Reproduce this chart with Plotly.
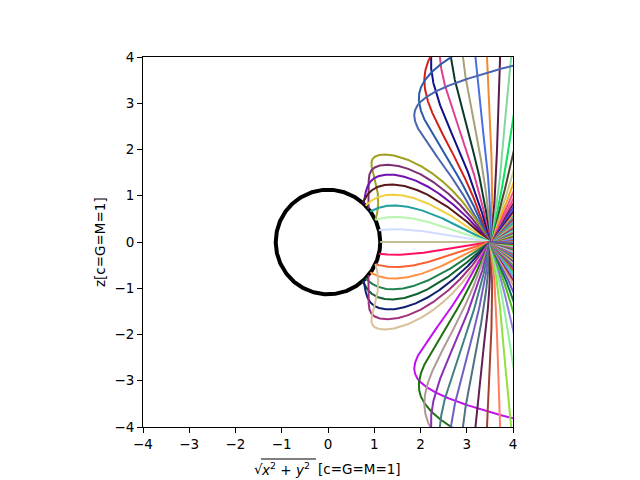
import numpy as np
import plotly.graph_objects as go

# ---------------- data / parameters ----------------
horizon_r = 1.13            # radius of the black circle
mass_captured = 0.9         # lensing mass used for rays that fall in
mass_escaping = 0.52        # lensing mass used for rays that escape
src_r = 3.5                 # emitter position on the z = 0 plane
src_speed = 0.5             # emitter speed (outward), gives forward beaming
tilt_captured_deg = 15.0    # azimuthal tilt of the rays that fall in
tilt_escaping_deg = 20.0    # azimuthal tilt of the rays that escape
n_rays = 96
emit_angles_deg = [3.75 * k for k in range(n_rays)]   # evenly spaced in the emitter frame
captured_first, captured_last = 40, 56                 # rays that end on the circle
tick_vals = [-4, -3, -2, -1, 0, 1, 2, 3, 4]

# colours, ray index 40..56 = rays that fall into the hole (top to bottom)
captured_colors = ["#a0a020", "#7a3070", "#7010b0", "#5a1818", "#f0d040", "#20a0a0",
                   "#b8f5b0", "#d0dcff", "#c0c090", "#ff1060", "#ff6030", "#ff9040",
                   "#208050", "#106030", "#102070", "#a03080", "#d8c098"]
# ray index 39 down to 0
upper_colors = ["#4a64b0", "#2a5aa8", "#d02018", "#10108a", "#e04090", "#0a3a2a",
                "#a8a078", "#4a70e0", "#f08a30", "#5a1a50", "#80d8a0", "#10e060",
                "#4a4a30", "#c8c890", "#f0b010", "#f05090",
                "#f05090", "#702050", "#4040e0", "#501070", "#e0a040", "#30b0b0",
                "#c03030", "#8080f0", "#20c060", "#b0b0b0", "#f07020", "#6030a0",
                "#40e0e0", "#a0c030", "#d04080", "#3060c0", "#e0e040", "#308030",
                "#a06030", "#c080e0", "#20a0f0", "#f03030", "#60c0a0", "#8040f0"]
# ray index 57 up to 95
lower_colors = ["#c010f0", "#207010", "#b09898", "#8a30b0", "#408080", "#7060c0",
                "#507080", "#602050", "#a04030", "#ff8060", "#90e040", "#90f0a0",
                "#9080e0", "#50c020", "#107050",
                "#7050d0", "#c8b070", "#a02050", "#60a0f0", "#20d080", "#e06020",
                "#9030c0", "#40a040", "#f0a0a0", "#3050a0", "#d0d030", "#a040a0",
                "#10b0b0", "#f04060", "#5080d0", "#b0e080", "#e080e0", "#208060",
                "#c06020", "#7070f0", "#f0c060", "#30f060", "#a01010", "#6060a0"]

ray_colors = [None] * n_rays
for j, c in enumerate(upper_colors):
    ray_colors[39 - j] = c
for j, c in enumerate(captured_colors):
    ray_colors[40 + j] = c
for j, c in enumerate(lower_colors):
    ray_colors[57 + j] = c


def trace_rays(angles_deg, dphi=0.002, nmax=3500, rmax=7.0):
    al = np.radians(np.asarray(angles_deg, float))
    idx = np.arange(al.size)
    cap = (idx >= captured_first) & (idx <= captured_last)
    M = np.where(cap, mass_captured, mass_escaping)
    b = np.radians(np.where(cap, tilt_captured_deg, tilt_escaping_deg))
    v = src_speed
    nx_ = np.cos(b) * np.cos(al)
    ny_ = np.sin(b)
    nz_ = np.cos(b) * np.sin(al)
    den = 1 + v * nx_
    nx = (nx_ + v) / den
    g = np.sqrt(1 - v * v) / den
    ny, nz = ny_ * g, nz_ * g
    nrm = np.sqrt(nx**2 + ny**2 + nz**2)
    nx, ny, nz = nx / nrm, ny / nrm, nz / nrm
    psi = np.arccos(np.clip(nx, -1, 1))
    perp = np.sqrt(ny**2 + nz**2)
    e2y, e2z = ny / perp, nz / perp
    u0 = 1.0 / src_r
    u = np.full(al.shape, u0)
    w = -u0 * np.sqrt(1 - 2 * M * u0) / np.tan(psi)
    ph = 0.0
    alive = np.ones(al.shape, bool)
    xs, zs = [], []

    def rec():
        r = 1.0 / u
        X = r * np.cos(ph)
        Y = r * np.sin(ph) * e2y
        Zc = r * np.sin(ph) * e2z
        xs.append(np.where(alive, np.sqrt(X**2 + Y**2), np.nan))
        zs.append(np.where(alive, Zc, np.nan))

    f = lambda uu: -uu + 3 * M * uu**2
    rec()
    for _ in range(nmax):
        k1u, k1w = w, f(u)
        k2u, k2w = w + 0.5 * dphi * k1w, f(u + 0.5 * dphi * k1u)
        k3u, k3w = w + 0.5 * dphi * k2w, f(u + 0.5 * dphi * k2u)
        k4u, k4w = w + dphi * k3w, f(u + dphi * k3u)
        u = u + dphi / 6 * (k1u + 2 * k2u + 2 * k3u + k4u)
        w = w + dphi / 6 * (k1w + 2 * k2w + 2 * k3w + k4w)
        ph += dphi
        rec()
        alive &= (u < 1.0 / horizon_r) & (u > 1.0 / rmax)
        if not alive.any():
            break
    return np.array(xs).T, np.array(zs).T


RHO, Z = trace_rays(emit_angles_deg)

fig = go.Figure()
phi = np.linspace(0, 2 * np.pi, 361)
fig.add_trace(go.Scatter(x=horizon_r * np.cos(phi), y=horizon_r * np.sin(phi), mode="lines",
                         line=dict(color="black", width=4), hoverinfo="skip"))
for i in range(n_rays):
    fig.add_trace(go.Scatter(x=RHO[i], y=Z[i], mode="lines",
                             line=dict(color=ray_colors[i], width=2), hoverinfo="skip"))

axis_common = dict(range=[-4, 4], tickvals=tick_vals, ticks="outside", ticklen=5, tickwidth=1,
                   tickcolor="black", showline=True, linecolor="black", linewidth=1,
                   mirror=True, showgrid=False, zeroline=False, automargin=False,
                   tickfont=dict(family="DejaVu Sans", size=13.5, color="black"))
fnt = dict(family="DejaVu Sans", size=13.5, color="black")
yl = -(469 - 427) / 370
fig.update_layout(
    width=640, height=480, margin=dict(l=143, r=127, t=57, b=53),
    plot_bgcolor="white", paper_bgcolor="white", showlegend=False,
    xaxis=dict(**axis_common),
    yaxis=dict(**axis_common),
    annotations=[
        dict(text="√", xref="paper", yref="paper", x=(265 - 143) / 370, y=yl,
             xanchor="right", yanchor="middle", showarrow=False, font=fnt),
        dict(text="<i>x</i><sup>2</sup> + <i>y</i><sup>2</sup>", xref="paper", yref="paper",
             x=(259 - 143) / 370, y=yl, xanchor="left", yanchor="middle",
             showarrow=False, font=fnt),
        dict(text="[c=G=M=1]", xref="paper", yref="paper", x=(316 - 143) / 370,
             y=yl, xanchor="left", yanchor="middle", showarrow=False, font=fnt),
        dict(text="z[c=G=M=1]", xref="paper", yref="paper", x=-(143 - 100) / 370, y=0.5,
             xanchor="center", yanchor="middle", textangle=-90, showarrow=False, font=fnt),
    ],
    shapes=[dict(type="line", xref="paper", yref="paper",
                 x0=(261 - 143) / 370, x1=(316 - 143) / 370,
                 y0=-(459 - 427) / 370, y1=-(459 - 427) / 370,
                 line=dict(color="black", width=1))],
)
fig.write_html("out.html")
